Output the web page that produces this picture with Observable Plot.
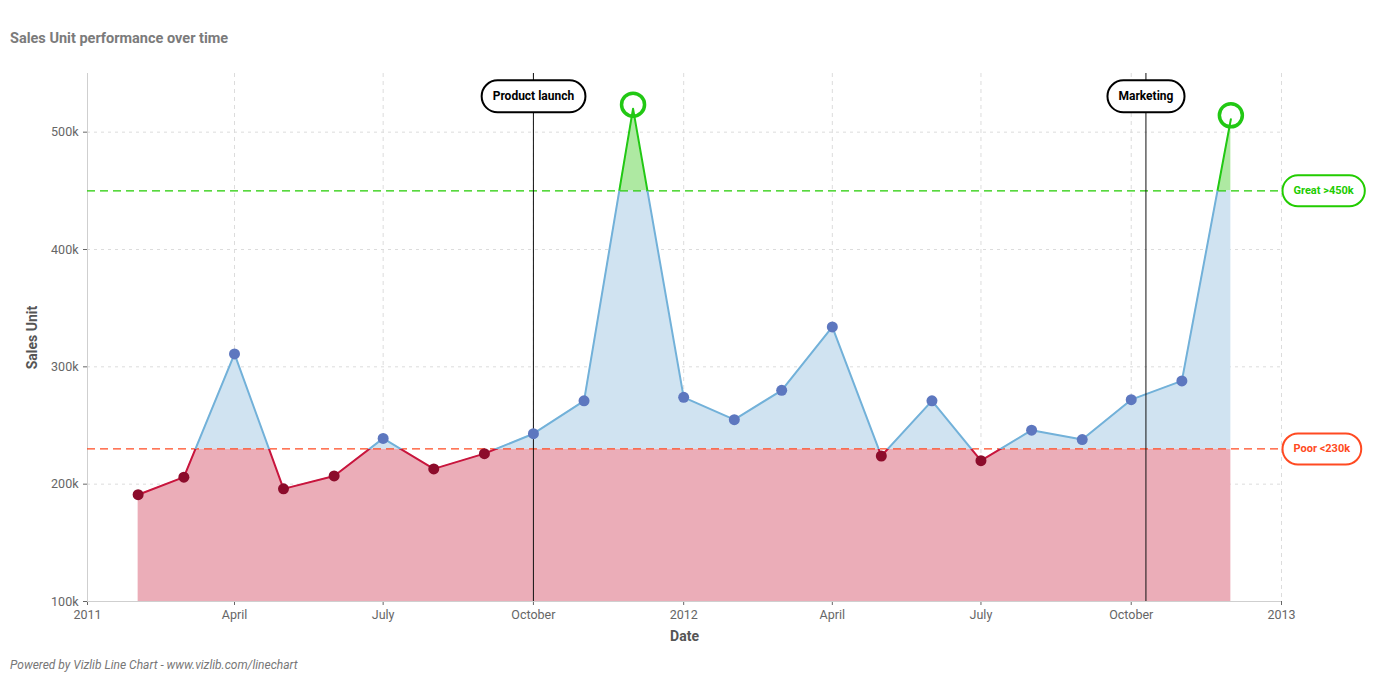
<!DOCTYPE html>
<html>
<head>
<meta charset="utf-8">
<script src="https://cdn.jsdelivr.net/npm/d3@7"></script>
<script src="https://cdn.jsdelivr.net/npm/@observablehq/plot@0.6"></script>
<style>
  body { margin: 0; background: #fff; font-family: Roboto, "Noto Sans", sans-serif; }
  #title { position: absolute; left: 10px; top: 30px; font: bold 14.5px Roboto, sans-serif; color: #7b7b7b; }
  #chart { position: absolute; left: 0; top: 55px; }
  #footer { position: absolute; left: 10px; top: 658px; font: italic 12px Roboto, sans-serif; color: #777; }
</style>
</head>
<body>
<div id="title">Sales Unit performance over time</div>
<div id="chart"></div>
<div id="footer">Powered by Vizlib Line Chart - www.vizlib.com/linechart</div>
<script>
// ---------- data ----------
const months = ["2011-02","2011-03","2011-04","2011-05","2011-06","2011-07","2011-08","2011-09","2011-10","2011-11","2011-12",
                "2012-01","2012-02","2012-03","2012-04","2012-05","2012-06","2012-07","2012-08","2012-09","2012-10","2012-11","2012-12"];
const sales = [191000, 206000, 311000, 196000, 207000, 239000, 213000, 226000, 243000, 271000, 520000,
               274000, 255000, 280000, 334000, 224000, 271000, 220000, 246000, 238000, 272000, 288000, 511000];
const xTickDates = ["2011-01","2011-04","2011-07","2011-10","2012-01","2012-04","2012-07","2012-10","2013-01"];
const xTickLabels = ["2011","April","July","October","2012","April","July","October","2013"];
const yTicks = [100000, 200000, 300000, 400000, 500000];
const yTickLabels = ["100k","200k","300k","400k","500k"];
const yDomain = [100000, 550000];
const eventDates = ["2011-10-01","2012-10-10"];
const eventLabels = ["Product launch","Marketing"];
const thresholdValues = [450000, 230000];
const thresholdLabels = ["Great >450k","Poor <230k"];
const thresholdColors = ["#22cc00","#ff4a22"];

// ---------- build tables ----------
const pm = d3.utcParse("%Y-%m"), pd = d3.utcParse("%Y-%m-%d");
const data = months.map((m, i) => ({date: pm(m), value: sales[i]}));
const xTicks = xTickDates.map(pm);
const xDomain = [xTicks[0], xTicks[xTicks.length - 1]];
const events = eventDates.map((d, i) => ({date: pd(d), label: eventLabels[i]}));
const [great, poor] = thresholdValues;
const thresholds = thresholdValues.map((v, i) => ({value: v, label: thresholdLabels[i], color: thresholdColors[i]}));

const C = {
  pinkFill: "#ebadb8", blueFill: "#d0e3f1", greenFill: "#aee9a2",
  redLine: "#c8153d", blueLine: "#72b1d9", greenLine: "#22c814",
  redDot: "#8c0c2b", blueDot: "#5d77bf", grid: "#dcdcdc", axis: "#cfcfcf"
};

const fmtX = d => xTickLabels[xTicks.findIndex(t => +t === +d)];
const fmtY = v => yTickLabels[yTicks.indexOf(v)];

const W = 1383, H = 595;
const chart = Plot.plot({
  width: W, height: H,
  marginLeft: 87, marginRight: 102, marginTop: 18, marginBottom: 49,
  style: {fontFamily: "Roboto, sans-serif", fontSize: "12.5px", color: "#666", background: "#fff", overflow: "visible"},
  x: {type: "utc", domain: xDomain, ticks: xTicks, tickFormat: fmtX, tickSize: 4, tickPadding: 5, label: null},
  y: {domain: yDomain, ticks: yTicks, tickFormat: fmtY, tickSize: 4, tickPadding: 5, label: null},
  marks: [
    // grid
    Plot.ruleX(xTicks, {stroke: C.grid, strokeDasharray: "4,4"}),
    Plot.ruleY(yTicks, {stroke: C.grid, strokeDasharray: "3,4"}),
    // areas (clipped into bands afterwards): low, mid, high
    Plot.areaY(data, {x: "date", y1: yDomain[0], y2: "value", fill: C.pinkFill}),
    Plot.areaY(data, {x: "date", y1: yDomain[0], y2: "value", fill: C.blueFill}),
    Plot.areaY(data, {x: "date", y1: yDomain[0], y2: "value", fill: C.greenFill}),
    // axis lines
    Plot.ruleX([xDomain[0]], {stroke: C.axis}),
    Plot.ruleY([yDomain[0]], {stroke: C.axis}),
    // threshold lines
    Plot.ruleY(thresholds, {y: "value", stroke: "color", strokeDasharray: "8,5", strokeWidth: 1.3}),
    // lines (clipped into bands afterwards)
    Plot.line(data, {x: "date", y: "value", stroke: C.redLine, strokeWidth: 2}),
    Plot.line(data, {x: "date", y: "value", stroke: C.blueLine, strokeWidth: 2}),
    Plot.line(data, {x: "date", y: "value", stroke: C.greenLine, strokeWidth: 2}),
    // event rules
    Plot.ruleX(events, {x: "date", stroke: "#111", strokeWidth: 1}),
    // dots
    Plot.dot(data.filter(d => d.value < poor), {x: "date", y: "value", r: 5.5, fill: C.redDot}),
    Plot.dot(data.filter(d => d.value >= poor && d.value <= great), {x: "date", y: "value", r: 5.5, fill: C.blueDot}),
    Plot.dot(data.filter(d => d.value > great), {x: "date", y: "value", r: 11.5, dy: -4, fill: "none", stroke: C.greenLine, strokeWidth: 3.5}),
    // labels in boxes
    Plot.text(events, {x: "date", text: "label", frameAnchor: "top", lineAnchor: "middle", dy: 23, fill: "#000", fontWeight: "bold", fontSize: 12, textAnchor: "middle"}),
    Plot.text(thresholds, {y: "value", text: "label", frameAnchor: "right", lineAnchor: "middle", dx: 12, textAnchor: "start", fill: "color", fontWeight: "bold", fontSize: 11}),
    // axis titles
    Plot.text(["Date"], {frameAnchor: "bottom", lineAnchor: "middle", textAnchor: "middle", dy: 35, fontWeight: "bold", fontSize: 14, fill: "#555"}),
    Plot.text(["Sales Unit"], {frameAnchor: "left", lineAnchor: "middle", textAnchor: "middle", dx: -55, rotate: -90, fontWeight: "bold", fontSize: 14, fill: "#555"})
  ]
});
document.getElementById("chart").appendChild(chart);

// ---------- band clipping (from the y scale) ----------
const ys = chart.scale("y");
const Y = v => ys.apply(v);
const svg = d3.select(chart);
const defs = svg.insert("defs", ":first-child");
const bands = [
  {id: "bandLow", y0: Y(poor), y1: H},
  {id: "bandMid", y0: Y(great), y1: Y(poor)},
  {id: "bandHigh", y0: -50, y1: Y(great)}
];
bands.forEach(b => defs.append("clipPath").attr("id", b.id).attr("clipPathUnits", "userSpaceOnUse")
  .append("rect").attr("x", -10).attr("width", W + 20).attr("y", b.y0).attr("height", b.y1 - b.y0));
const areas = chart.querySelectorAll('g[aria-label="area"]');
const lines = chart.querySelectorAll('g[aria-label="line"]');
bands.forEach((b, i) => {
  if (areas[i]) areas[i].setAttribute("clip-path", `url(#${b.id})`);
  if (lines[i]) lines[i].setAttribute("clip-path", `url(#${b.id})`);
});

// ---------- rounded boxes behind annotation labels ----------
const textGroups = chart.querySelectorAll('g[aria-label="text"]');
[0, 1].forEach(gi => {
  const g = textGroups[gi];
  if (!g) return;
  g.querySelectorAll("text").forEach(t => {
    const bb = t.getBBox();
    const padX = 11, padY = 9;
    const col = t.getAttribute("fill") || "#000";
    const rect = document.createElementNS("http://www.w3.org/2000/svg", "rect");
    const h = bb.height + 2 * padY;
    rect.setAttribute("x", bb.x - padX);
    rect.setAttribute("y", bb.y - padY);
    rect.setAttribute("width", bb.width + 2 * padX);
    rect.setAttribute("height", h);
    rect.setAttribute("rx", h / 2);
    rect.setAttribute("fill", "#fff");
    rect.setAttribute("stroke", gi === 0 ? "#000" : col);
    rect.setAttribute("stroke-width", 2);
    const tr = t.getAttribute("transform");
    if (tr) rect.setAttribute("transform", tr);
    g.insertBefore(rect, t);
  });
});
</script>
</body>
</html>
